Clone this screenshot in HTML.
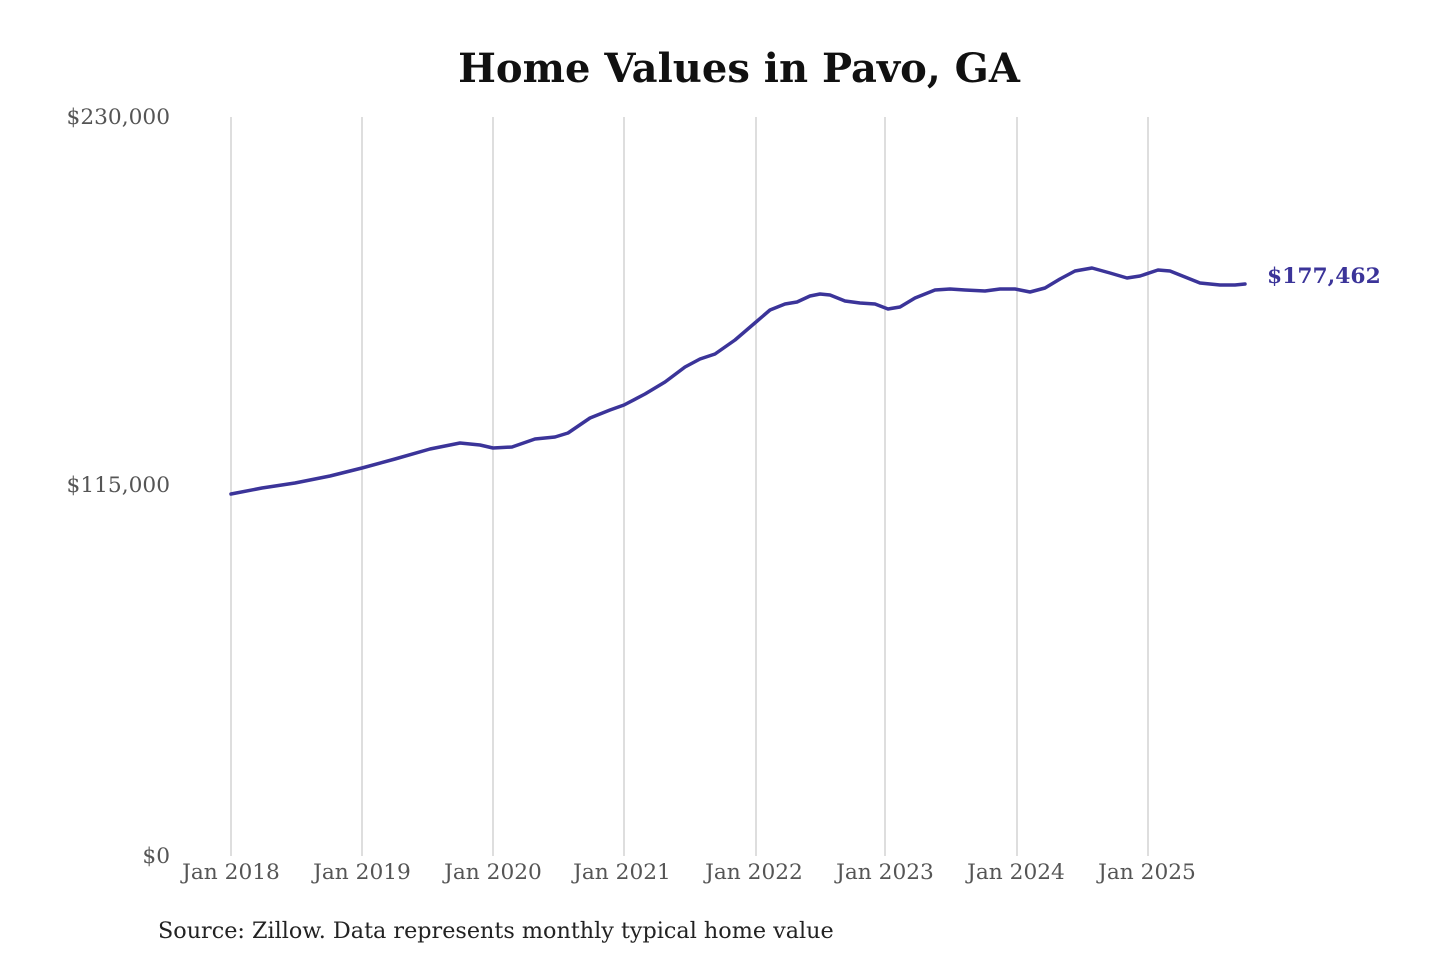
<!DOCTYPE html>
<html><head><meta charset="utf-8"><style>
html,body{margin:0;padding:0;background:#fff;}
</style></head><body>
<svg width="1440" height="960" xmlns="http://www.w3.org/2000/svg" style="display:block">
<rect width="1440" height="960" fill="#fff"/>
<text x="739" y="82" text-anchor="middle" font-family="DejaVu Serif, serif" font-weight="bold" font-size="40" fill="#111">Home Values in Pavo, GA</text>
<g stroke="#c8c8c8" stroke-width="1.2">
<line x1="231" y1="117" x2="231" y2="856"/>
<line x1="362" y1="117" x2="362" y2="856"/>
<line x1="493" y1="117" x2="493" y2="856"/>
<line x1="624" y1="117" x2="624" y2="856"/>
<line x1="756" y1="117" x2="756" y2="856"/>
<line x1="885" y1="117" x2="885" y2="856"/>
<line x1="1017" y1="117" x2="1017" y2="856"/>
<line x1="1148" y1="117" x2="1148" y2="856"/>
</g>
<g font-family="DejaVu Serif, serif" font-size="21.7" fill="#555">
<text x="170" y="124" text-anchor="end">$230,000</text>
<text x="170" y="492" text-anchor="end">$115,000</text>
<text x="170" y="863" text-anchor="end">$0</text>
<g text-anchor="middle">
<text x="231" y="879">Jan 2018</text>
<text x="362" y="879">Jan 2019</text>
<text x="493" y="879">Jan 2020</text>
<text x="622" y="879">Jan 2021</text>
<text x="754" y="879">Jan 2022</text>
<text x="885" y="879">Jan 2023</text>
<text x="1016" y="879">Jan 2024</text>
<text x="1147" y="879">Jan 2025</text>
</g></g>
<polyline fill="none" stroke="#3b3499" stroke-width="3.5" stroke-linejoin="round" stroke-linecap="round" points="231,494 262,488 295,483 330,476 362,468 395,459 430,449 460,443 480,445 493,448 512,447 535,439 555,437 568,433 590,418 610,410 624,405 645,394 665,382 685,367 700,359 715,354 735,340 756,322 770,310 785,304 797,302 810,296 820,294 830,295 845,301 860,303 875,304 888,309 900,307 915,298 935,290 950,289 965,290 985,291 1000,289 1015,289 1030,292 1045,288 1060,279 1075,271 1092,268 1110,273 1127,278 1140,276 1158,270 1170,271 1185,277 1200,283 1220,285 1235,285 1245,284"/>
<text x="1267" y="283" font-family="DejaVu Serif, serif" font-weight="bold" font-size="21.8" fill="#3b3499">$177,462</text>
<text x="158" y="938" font-family="DejaVu Serif, serif" font-size="22.3" fill="#222">Source: Zillow. Data represents monthly typical home value</text>
</svg>
</body></html>
